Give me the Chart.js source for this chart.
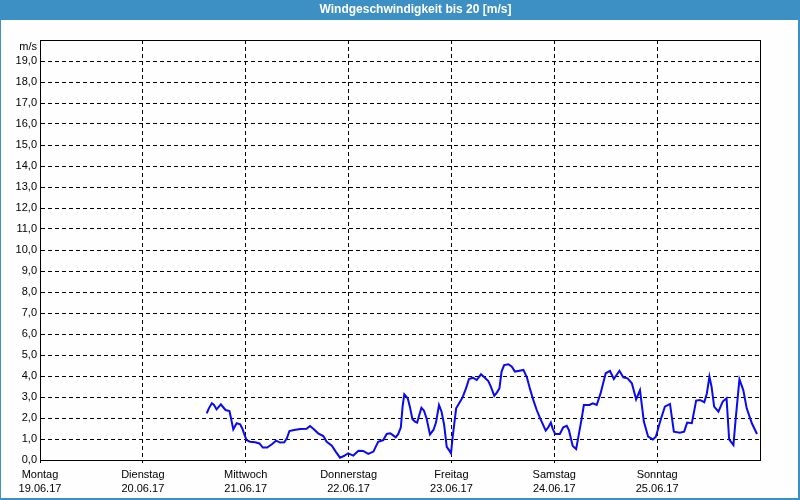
<!DOCTYPE html>
<html>
<head>
<meta charset="utf-8">
<script src="https://cdn.jsdelivr.net/npm/chart.js@4/dist/chart.umd.min.js"></script>
<style>
html,body{margin:0;padding:0;background:#fff;}
canvas{display:block;}
</style>
</head>
<body>
<canvas id="c" width="800" height="500"></canvas>
<script>
// Time axis: hours since Montag 19.06.17 00:00
const dayNames = ['Montag','Dienstag','Mittwoch','Donnerstag','Freitag','Samstag','Sonntag'];
const dayDates = ['19.06.17','20.06.17','21.06.17','22.06.17','23.06.17','24.06.17','25.06.17'];
const yUnit = 'm/s';
const titleText = 'Windgeschwindigkeit bis 20 [m/s]';

const hours = [38.9,39.4,40.1,40.6,41.2,42.2,42.8,43.3,44.2,44.5,45.1,45.9,46.7,47.2,47.6,48.2,49.0,50.2,51.2,52.0,
53.0,54.1,55.1,56.0,57.0,57.6,58.2,59.3,60.7,62.2,63.0,63.9,64.9,66.1,66.9,68.1,69.0,70.0,70.9,71.9,
73.1,74.3,75.4,76.6,77.8,78.9,80.1,80.9,81.7,
82.1,83.0,83.6,84.2,84.6,85.0,85.8,86.3,86.9,87.5,88.0,88.5,89.0,89.6,90.2,91.0,91.8,92.4,93.1,93.7,
94.3,94.9,95.4,95.9,96.3,97.1,97.8,98.6,99.4,100.1,101.0,101.9,102.9,103.8,104.6,105.2,106.0,106.6,107.2,107.7,
108.3,109.3,110.1,110.8,111.6,112.8,113.6,114.3,115.1,115.9,116.7,117.4,118.0,118.6,119.2,119.6,120.2,121.3,122.1,122.9,
123.4,
124.3,125.1,125.6,126.4,126.9,128.2,129.0,129.9,130.8,131.4,132.0,133.0,133.9,135.2,136.1,137.1,138.1,139.1,140.0,140.9,
141.9,143.0,143.7,144.7,145.8,147.0,147.9,149.3,150.3,151.0,152.1,153.1,154.0,155.0,155.6,156.2,156.7,157.3,158.3,159.3,
160.2,160.8,161.8,162.3,163.2,164.1,164.9,166.1,167.3];

const speeds = [2.22,2.46,2.70,2.62,2.41,2.65,2.50,2.38,2.33,2.06,1.46,1.75,1.70,1.50,1.27,0.95,0.87,0.84,0.79,0.59,
0.59,0.75,0.92,0.83,0.84,1.03,1.38,1.43,1.48,1.49,1.62,1.46,1.27,1.14,0.87,0.68,0.40,0.11,0.19,0.32,
0.21,0.44,0.43,0.29,0.40,0.87,0.95,1.24,1.27,
1.22,1.08,1.24,1.56,2.54,3.13,2.94,2.54,1.94,1.83,1.78,2.14,2.49,2.35,1.98,1.22,1.43,1.78,2.62,2.30,
1.67,0.63,0.48,0.32,1.11,2.46,2.70,2.98,3.41,3.86,3.92,3.81,4.08,3.92,3.76,3.49,3.06,3.21,3.41,4.21,
4.52,4.56,4.44,4.21,4.24,4.29,3.94,3.41,2.86,2.38,1.98,1.67,1.40,1.56,1.78,1.51,1.24,1.24,1.56,1.63,
1.43,
0.67,0.52,1.08,1.98,2.62,2.62,2.70,2.62,3.17,3.65,4.13,4.24,3.86,4.25,3.94,3.89,3.65,2.89,3.33,1.83,
1.11,0.98,1.11,1.83,2.54,2.67,1.35,1.30,1.35,1.78,1.75,2.83,2.86,2.75,3.17,3.97,3.49,2.54,2.30,2.78,
2.94,0.98,0.71,1.90,3.84,3.33,2.46,1.75,1.24];

const points = hours.map((h, i) => ({x: h, y: speeds[i]}));

const FONT = '"Liberation Sans", Arial, sans-serif';

const framePlugin = {
  id: 'frame',
  beforeDraw(chart) {
    const ctx = chart.ctx;
    ctx.save();
    ctx.fillStyle = '#fdfefd';
    ctx.fillRect(0, 0, chart.width, chart.height);
    ctx.fillStyle = '#3d90c4';
    ctx.fillRect(0, 0, chart.width, 20);
    ctx.fillRect(0, 0, 1, chart.height);
    ctx.fillRect(chart.width - 2, 0, 2, chart.height);
    ctx.fillRect(0, chart.height - 2, chart.width, 2);
    ctx.fillStyle = '#ffffff';
    ctx.font = 'bold 12px ' + FONT;
    ctx.textAlign = 'center';
    ctx.textBaseline = 'middle';
    ctx.fillText(titleText, 415.5, 10);
    ctx.restore();
  },
  afterDraw(chart) {
    const ctx = chart.ctx;
    const a = chart.chartArea;
    ctx.save();
    ctx.strokeStyle = '#000';
    ctx.lineWidth = 1;
    ctx.setLineDash([]);
    ctx.strokeRect(Math.round(a.left) + 0.5, Math.round(a.top) + 0.5,
                   Math.round(a.right - a.left), Math.round(a.bottom - a.top));
    ctx.fillStyle = '#000';
    ctx.font = '11px ' + FONT;
    ctx.textAlign = 'right';
    ctx.textBaseline = 'middle';
    ctx.fillText(yUnit, a.left - 3, a.top + 7);
    ctx.restore();
  }
};

new Chart(document.getElementById('c'), {
  type: 'line',
  data: {
    datasets: [{
      data: points,
      borderColor: '#0a0af0',
      borderWidth: 2,
      pointRadius: 0,
      tension: 0,
      fill: false
    }]
  },
  options: {
    responsive: false,
    animation: false,
    devicePixelRatio: 1,
    layout: {padding: {left: 0, right: 40, top: 40, bottom: 0}},
    plugins: {
      legend: {display: false},
      tooltip: {enabled: false},
      title: {display: false}
    },
    scales: {
      x: {
        type: 'linear',
        min: 0,
        max: 168,
        afterFit: s => { s.height = 40; },
        afterBuildTicks: s => { s.ticks = dayNames.map((d, i) => ({value: i * 24})); },
        ticks: {
          autoSkip: false,
          maxRotation: 0,
          padding: 5,
          color: '#000',
          font: {family: FONT, size: 11, lineHeight: '14px'},
          callback: (v) => { const i = Math.round(v / 24); return i < dayNames.length ? [dayNames[i], dayDates[i]] : ''; }
        },
        grid: {color: '#000', lineWidth: 1, tickLength: 3, tickColor: '#000', tickBorderDash: [4, 3]},
        border: {display: true, color: '#000', width: 1, dash: [4, 3]}
      },
      y: {
        min: 0,
        max: 20,
        afterFit: s => { s.width = 40; },
        ticks: {
          stepSize: 1,
          padding: 3,
          color: '#000',
          font: {family: FONT, size: 11},
          callback: (v) => v >= 20 ? '' : v.toFixed(1).replace('.', ',')
        },
        grid: {color: '#000', lineWidth: 1, drawTicks: false},
        border: {display: true, color: '#000', width: 1, dash: [4, 3]}
      }
    }
  },
  plugins: [framePlugin]
});
</script>
</body>
</html>
